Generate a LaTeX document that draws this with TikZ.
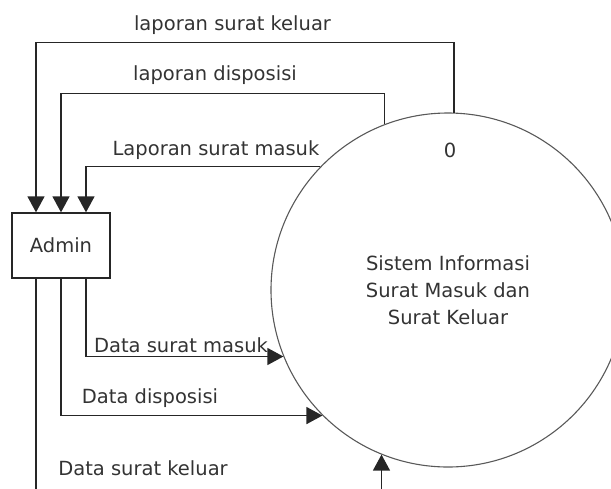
\documentclass[tikz,border=0pt]{standalone}
\usepackage{fontspec}
\setmainfont{DejaVu Sans}
\usetikzlibrary{
    arrows.meta,
    positioning,
    calc
}
\newcommand{\dfdfont}{\fontsize{19.5}{27}\selectfont}
\tikzset{
  entity/.style  = {draw=black!85, line width=1.3pt, minimum width=98pt,
                    minimum height=65pt, font=\dfdfont, text=black!80},
  process/.style = {draw=black!65, circle, line width=1.1pt, minimum size=354pt,
                    inner sep=0pt, align=center, font=\dfdfont, text=black!80},
  flow/.style    = {-{Triangle[length=16pt,width=17pt]}, line width=1.4pt,
                    draw=black!85},
  lbl/.style     = {inner sep=0pt, font=\dfdfont, text=black!80}
}

\begin{document}
\begin{tikzpicture}[x=1pt, y=-1pt]
      \clip (0,0) rectangle (611,488);
      \node[entity] (admin) at (61,245.5) {Admin};
      \node[process] (proc) at (448,290)
            {Sistem Informasi\\Surat Masuk dan\\Surat Keluar};
      \node[lbl] (procid) at (450,150) {0};
      % laporan ke admin
      \draw[flow] (proc.88.7) -- ++(0,-70) -| ([xshift=-25pt]admin.north);
      \draw[flow] (proc.111.5) -- ++(0,-31) -| (admin.north);
      \draw[flow] (proc.136) -| ([xshift=25pt]admin.north);
      % data dari admin
      \draw[flow] ([xshift=25pt]admin.south) |- (proc.202.6);
      \draw[flow] (admin.south) |- (proc.225.8);
      \draw[flow] ([xshift=-25pt]admin.south) -- ++(0,240) -| (proc.248.1);
      \node[lbl] (lapkeluar) at (232.5,25) {laporan surat keluar};
      \node[lbl] (lapdispo)  at (215,75)   {laporan disposisi};
      \node[lbl] (lapmasuk)  at (216,150)  {Laporan surat masuk};
      \node[lbl] (datmasuk)  at (181,345)  {Data surat masuk};
      \node[lbl] (datdispo)  at (150,398)  {Data disposisi};
      \node[lbl] (datkeluar) at (143,468)  {Data surat keluar};
\end{tikzpicture}
\end{document}
